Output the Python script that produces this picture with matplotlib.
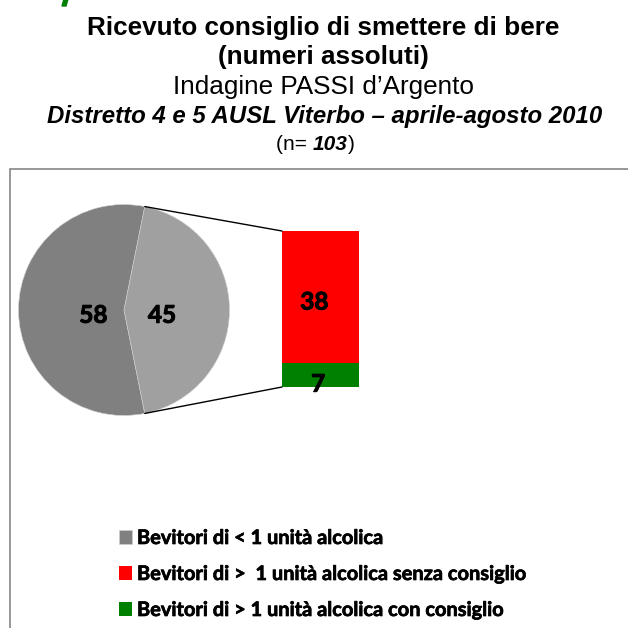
import numpy as np
import matplotlib.pyplot as plt
import matplotlib.patheffects as pe
from matplotlib.patches import Rectangle, Polygon, ConnectionPatch

# data
pie_labels = ['Bevitori di < 1 unità alcolica', 'Bevitori di > 1 unità alcolica']
pie_values = [58, 45]
pie_colors = ['#808080', '#a0a0a0']

bar_labels = ['Bevitori di >  1 unità alcolica senza consiglio',
              'Bevitori di > 1 unità alcolica con consiglio']
bar_values = [38, 7]
bar_colors = ['#ff0000', '#008000']

W = H = 628
fig = plt.figure(figsize=(6.28, 6.28), dpi=100)

def fx(px):
    return px / W

def fy(py):
    return 1 - py / H

# titles
fig.text(fx(323), fy(28), 'Ricevuto consiglio di smettere di bere', ha='center', va='center',
         fontsize=18.8, fontweight='bold', family='Liberation Sans')
fig.text(fx(323), fy(57), '(numeri assoluti)', ha='center', va='center',
         fontsize=18.8, fontweight='bold', family='Liberation Sans')
fig.text(fx(323), fy(87), 'Indagine PASSI d\u2019Argento', ha='center', va='center',
         fontsize=18.8, family='Liberation Sans')
fig.text(fx(325), fy(117), 'Distretto 4 e 5 AUSL Viterbo \u2013 aprile-agosto 2010', ha='center', va='center',
         fontsize=17.3, fontweight='bold', style='italic', family='Liberation Sans')
t1 = fig.text(fx(276), fy(145), '(n= ', ha='left', va='center', fontsize=15, family='Liberation Sans')
t2 = fig.text(0, 0, '103', fontsize=15, fontweight='bold', style='italic', family='Liberation Sans',
              transform=t1.get_transform())
fig.canvas.draw()
bb = t1.get_window_extent()
t2.set_position((bb.x1 / W, fy(145)))
t2.set_va('center')
fig.canvas.draw()
bb2 = t2.get_window_extent()
fig.text(bb2.x1 / W, fy(145), ')', ha='left', va='center', fontsize=15, family='Liberation Sans')

# green fragment at the top edge
fig.patches.append(Polygon([[fx(62), fy(6)], [fx(66), fy(6)], [fx(68), fy(-1)], [fx(64), fy(-1)]],
                           closed=True, color='#008000', transform=fig.transFigure))

# chart frame
fig.patches.append(Rectangle((fx(10), fy(700)), 1.2, fy(169) - fy(700), fill=False,
                             edgecolor='#868686', lw=1.2, transform=fig.transFigure))

# pie
cx, cy, r = 124, 310, 105.5
pax = fig.add_axes([fx(cx - r), fy(cy + r), 2 * r / W, 2 * r / H])
start = 180 * pie_values[1] / sum(pie_values)
wedges, _ = pax.pie(pie_values, colors=pie_colors, startangle=start,
                    wedgeprops=dict(edgecolor='#d0d0d0', linewidth=0.4))
pax.set_xlim(-1, 1)
pax.set_ylim(-1, 1)
pax.set_aspect('equal')
pax.axis('off')

heavy = [pe.withStroke(linewidth=0.7, foreground='black')]
label_font = dict(fontsize=17.5, fontweight='bold', family='Lato', path_effects=heavy)
pax.text(-0.29, -0.05, str(pie_values[0]), ha='center', va='center', **label_font)
pax.text(0.36, -0.05, str(pie_values[1]), ha='center', va='center', **label_font)

# stacked bar
bax = fig.add_axes([fx(282), fy(387), 77 / W, 156 / H])
bottoms = [bar_values[1], 0]
bars = []
for v, b, c in zip(bar_values, bottoms, bar_colors):
    bars.append(bax.bar([0], [v], bottom=b, width=1, color=c)[0])
bax.set_xlim(-0.5, 0.5)
bax.set_ylim(0, sum(bar_values))
bax.axis('off')
bax.text(-0.08, bottoms[0] + bar_values[0] / 2 - 1.5, str(bar_values[0]), ha='center', va='center', **label_font)
bax.text(-0.03, 0.8, str(bar_values[1]), ha='center', va='center', clip_on=False, **label_font)

# connectors
ang = np.deg2rad(start)
for sgn, yb in [(1, sum(bar_values)), (-1, 0)]:
    con = ConnectionPatch(xyA=(np.cos(ang), sgn * np.sin(ang)), coordsA=pax.transData,
                          xyB=(-0.5, yb), coordsB=bax.transData, color='black', lw=1)
    fig.add_artist(con)

# legend
handles = [wedges[0], bars[0], bars[1]]
labels = [pie_labels[0], bar_labels[0], bar_labels[1]]
leg = fig.legend(handles, labels, loc='upper left', bbox_to_anchor=(fx(119), fy(528)),
                 frameon=False, prop=dict(family='Lato', weight='bold', size=14.4),
                 handlelength=0.65, handleheight=0.65, handletextpad=0.25, labelspacing=0.8,
                 borderpad=0, borderaxespad=0)
for t in leg.get_texts():
    t.set_path_effects([pe.withStroke(linewidth=0.5, foreground='black')])

fig.savefig('out.png', dpi=100)
